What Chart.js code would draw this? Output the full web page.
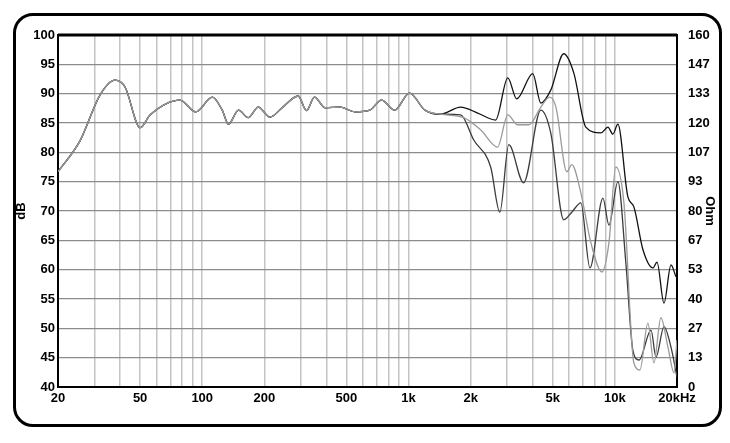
<!DOCTYPE html>
<html>
<head>
<meta charset="utf-8">
<script src="https://cdn.jsdelivr.net/npm/chart.js@4"></script>
<style>
  body { margin: 0; background: #fff; }
  #wrap { position: relative; width: 730px; height: 443px; }
  #frame { position: absolute; left: 13px; top: 13px; width: 703px; height: 408px;
           border: 3px solid #000; border-radius: 20px; }
  canvas { position: absolute; left: 0; top: 0; }
</style>
</head>
<body>
<div id="wrap">
  <div id="frame"></div>
  <canvas id="fr" width="730" height="443"></canvas>
</div>
<script>
// shared low/mid band (all three curves overlap here)
const baseFreq = [20, 25.6, 32, 37.8, 42.3, 50, 56, 78, 93, 112, 125, 134, 150, 167, 187, 213, 244, 292, 320, 350, 394, 466, 550, 650, 740, 856, 1010, 1200, 1430];
const baseDb   = [76.7, 82, 89.8, 92.3, 91.1, 84.2, 86.4, 88.9, 86.9, 89.4, 87.2, 84.8, 87.2, 85.9, 87.7, 86.0, 87.6, 89.6, 87.1, 89.4, 87.6, 87.7, 86.9, 87.2, 88.9, 87.2, 90.1, 87.2, 86.5];

// upper band, per curve
const blackFreq = [1788, 2163, 2643, 3027, 3343, 4000, 4375, 4888, 5650, 6325, 7230, 8550, 9250, 9780, 10340, 11560, 12360, 13680, 15300, 16000, 17300, 18700, 19760];
const blackDb   = [87.7, 86.7, 85.5, 92.7, 89.1, 93.4, 88.4, 90.6, 96.8, 93.5, 84.3, 83.3, 84.3, 83.1, 84.8, 72.4, 70.7, 63.4, 60.3, 61.3, 54.3, 60.8, 58.8];

const lightFreq = [1850, 2240, 2700, 3027, 3380, 3830, 4375, 4830, 5180, 5850, 6180, 6840, 7650, 8650, 9360, 10100, 11060, 12360, 13220, 14450, 15460, 16710, 18080, 19340, 20000];
const lightDb   = [85.9, 83.8, 80.9, 86.4, 84.7, 84.7, 87.7, 89.4, 87.7, 76.7, 77.9, 73.1, 64.6, 59.6, 64.6, 77.5, 71.4, 44.1, 42.9, 50.9, 44.1, 51.8, 46.8, 42.4, 48];

const darkFreq = [1788, 2070, 2500, 2770, 3060, 3610, 4375, 4888, 5650, 6180, 6840, 7570, 8750, 9360, 10340, 11300, 12220, 13090, 14970, 15820, 17300, 18700, 20000];
const darkDb   = [86.4, 82.1, 77.5, 69.8, 81.3, 74.8, 87.2, 83.3, 68.5, 69.8, 71.4, 60.3, 72.2, 67.6, 75, 61.2, 46.3, 44.6, 49.7, 45.1, 50.3, 46.8, 41.7];

const gridFreqs = [20, 30, 40, 50, 60, 70, 80, 90, 100, 200, 300, 400, 500, 600, 700, 800, 900,
  1000, 2000, 3000, 4000, 5000, 6000, 7000, 8000, 9000, 10000, 20000];
const freqLabels = { 20: '20', 50: '50', 100: '100', 200: '200', 500: '500', 1000: '1k', 2000: '2k', 5000: '5k', 10000: '10k', 20000: '20kHz' };

function points(f1, d1, f2, d2) {
  return f1.map((f, i) => ({ x: f, y: d1[i] })).concat(f2.map((f, i) => ({ x: f, y: d2[i] })));
}

function line(data, color) {
  return { data, borderColor: color, borderWidth: 1.3, pointRadius: 0, cubicInterpolationMode: 'monotone', fill: false };
}

const font = { family: 'Liberation Sans, Arial, sans-serif', size: 13, weight: 'bold' };

new Chart(document.getElementById('fr'), {
  type: 'line',
  data: {
    datasets: [
      line(points(baseFreq, baseDb, lightFreq, lightDb), '#9a9a9a'),
      line(points(baseFreq, baseDb, darkFreq, darkDb), '#3c3c3c'),
      line(points(baseFreq, baseDb, blackFreq, blackDb), '#111')
    ]
  },
  options: {
    responsive: false,
    animation: false,
    layout: { padding: { left: 14, right: 13, top: 35, bottom: 27 } },
    plugins: { legend: { display: false }, tooltip: { enabled: false } },
    scales: {
      x: {
        type: 'logarithmic', min: 20, max: 20000,
        afterBuildTicks: s => { s.ticks = gridFreqs.map(v => ({ value: v })); },
        afterFit: s => { s.height = 29; },
        ticks: { autoSkip: false, maxRotation: 0, color: '#000', font, padding: 4,
                 callback: v => freqLabels[v] || '' },
        grid: { color: '#c4c4c4', lineWidth: 1.5, drawTicks: false },
        border: { color: '#000', width: 2 }
      },
      y: {
        position: 'left', min: 40, max: 100,
        afterFit: s => { s.width = 44; },
        ticks: { stepSize: 5, color: '#000', font, padding: 3 },
        title: { display: true, text: 'dB', color: '#000', font, padding: 0 },
        grid: { color: '#8c8c8c', lineWidth: 1.3, drawTicks: false },
        border: { color: '#000', width: 2 }
      },
      ohm: {
        position: 'right', min: 0, max: 160,
        afterBuildTicks: s => { s.ticks = Array.from({ length: 13 }, (_, i) => ({ value: i * 160 / 12 })); },
        afterFit: s => { s.width = 40; },
        ticks: { color: '#000', font, padding: 3, callback: v => Math.round(v) },
        title: { display: true, text: 'Ohm', color: '#000', font, padding: 0 },
        grid: { display: false },
        border: { color: '#000', width: 2 }
      }
    }
  },
  plugins: [{
    id: 'topEdge',
    afterDraw(chart) {
      const { ctx, chartArea: a } = chart;
      ctx.save();
      ctx.strokeStyle = '#000';
      ctx.lineWidth = 3;
      ctx.beginPath();
      ctx.moveTo(a.left, a.top);
      ctx.lineTo(a.right, a.top);
      ctx.stroke();
      ctx.restore();
    }
  }]
});
</script>
</body>
</html>
